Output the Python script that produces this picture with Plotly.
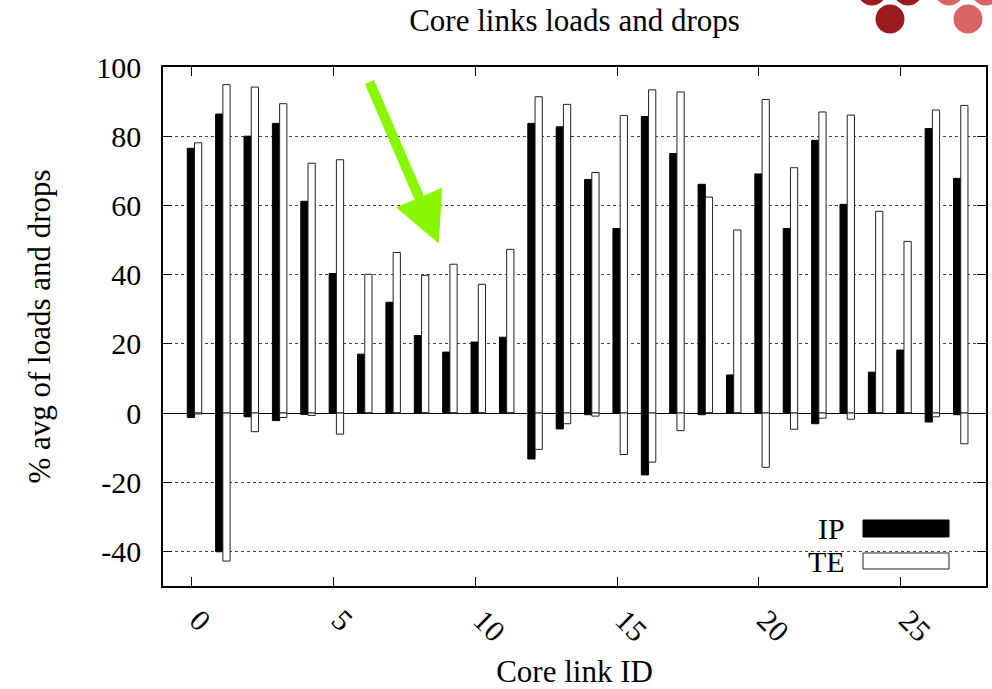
import plotly.graph_objects as go

link_ids = list(range(28))
ip_load = [76.5, 86.4, 80.0, 83.7, 61.2, 40.3, 17.0, 32.0, 22.4, 17.6, 20.5, 21.9,
           83.7, 82.7, 67.5, 53.3, 85.7, 75.0, 66.1, 11.0, 69.1, 53.3, 78.8, 60.3,
           11.8, 18.2, 82.2, 67.8]
te_load = [78.1, 94.9, 94.2, 89.4, 72.2, 73.2, 40.1, 46.4, 39.8, 43.0, 37.2, 47.3,
           91.4, 89.2, 69.5, 86.0, 93.4, 92.8, 62.4, 52.9, 90.6, 70.9, 87.0, 86.1,
           58.3, 49.6, 87.6, 88.9]
ip_drop = [-1.3, -40.1, -1.1, -2.2, -0.4, 0, 0, 0, 0, 0, 0, 0,
           -13.3, -4.6, -0.5, 0, -17.9, 0, -0.5, 0, 0, 0, -3.1, 0,
           0, 0, -2.6, -0.5]
te_drop = [-0.3, -42.8, -5.4, -1.3, -0.7, -6.1, 0, 0, 0, 0, 0, 0,
           -10.5, -3.1, -0.9, -12.0, -14.2, -5.1, 0, 0, -15.7, -4.7, -1.5, -1.8,
           0, 0, -1.1, -8.9]

y_ticks = [-40, -20, 0, 20, 40, 60, 80, 100]
x_ticks = [0, 5, 10, 15, 20, 25]

FONT = "Liberation Serif"
FS = 30
BW = 0.255
IP_OFF = -0.145
TE_OFF = IP_OFF + BW

fig = go.Figure()
ip_style = dict(marker=dict(color="black", line=dict(color="black", width=1)),
                width=BW, offset=IP_OFF)
te_style = dict(marker=dict(color="white", line=dict(color="#222222", width=1)),
                width=BW, offset=TE_OFF)
fig.add_trace(go.Bar(x=link_ids, y=ip_load, name="IP", showlegend=False, **ip_style))
fig.add_trace(go.Bar(x=link_ids, y=te_load, name="TE", showlegend=False, **te_style))
fig.add_trace(go.Bar(x=link_ids, y=ip_drop, name="IP drops", showlegend=False, **ip_style))
fig.add_trace(go.Bar(x=link_ids, y=te_drop, name="TE drops", showlegend=False, **te_style))

L, R, T, B = 163, 986, 67, 586
W, H = 992, 689
pw, ph = R - L, B - T


def px(xp):
    return (xp - L) / pw


def py(yp):
    return (B - yp) / ph


shapes = []
# decorative logo circles (top right)
for cx, cy, col in [(872, -9, "#9b1c1f"), (908, -9, "#9b1c1f"), (890, 19, "#9b1c1f"),
                    (949, -9, "#d86464"), (986, -9, "#d86464"), (968, 19, "#d86464")]:
    r = 14.5
    shapes.append(dict(type="circle", xref="paper", yref="paper",
                       x0=px(cx - r), x1=px(cx + r), y0=py(cy + r), y1=py(cy - r),
                       fillcolor=col, line=dict(width=0), layer="above"))
# legend boxes
shapes.append(dict(type="rect", xref="paper", yref="paper",
                   x0=px(863), x1=px(949), y0=py(537), y1=py(520),
                   fillcolor="black", line=dict(color="black", width=1)))
shapes.append(dict(type="rect", xref="paper", yref="paper",
                   x0=px(863), x1=px(949), y0=py(569), y1=py(553),
                   fillcolor="white", line=dict(color="#222222", width=1)))

annotations = [
    dict(xref="paper", yref="paper", x=px(847), y=py(528), text="IP", showarrow=False,
         xanchor="right", yanchor="middle", font=dict(family=FONT, size=FS, color="black")),
    dict(xref="paper", yref="paper", x=px(847), y=py(561), text="TE", showarrow=False,
         xanchor="right", yanchor="middle", font=dict(family=FONT, size=FS, color="black")),
    dict(x=8.72, y=49.0, xref="x", yref="y", text="", showarrow=True,
         ax=-70, ay=-163, arrowcolor="#88f700", arrowwidth=10, arrowhead=2,
         arrowsize=1.0, standoff=0),
]

fig.update_layout(
    width=W, height=H,
    margin=dict(l=L, r=W - R, t=T, b=H - B, autoexpand=False),
    paper_bgcolor="white", plot_bgcolor="white",
    barmode="overlay",
    font=dict(family=FONT, size=FS, color="black"),
    title=dict(text="Core links loads and drops", x=0.5, xref="paper",
               y=1 - 20 / H, yanchor="middle", xanchor="center",
               font=dict(family=FONT, size=31, color="black")),
    shapes=shapes,
    annotations=annotations,
)
fig.update_xaxes(range=[-1, 28], tickvals=x_ticks, ticktext=[str(v) for v in x_ticks],
                 tickangle=45, ticks="inside", ticklen=9, tickcolor="black",
                 showline=True, linecolor="black", linewidth=1.5, mirror="ticks",
                 showgrid=False, zeroline=False, automargin=False,
                 ticklabelshift=7, ticklabelstandoff=3,
                 title=dict(text="Core link ID", standoff=14,
                            font=dict(family=FONT, size=31)),
                 tickfont=dict(family=FONT, size=FS))
fig.update_yaxes(range=[-50, 100], tickvals=y_ticks, ticktext=[str(v) for v in y_ticks],
                 ticks="inside", ticklen=9, tickcolor="black",
                 showline=True, linecolor="black", linewidth=1.5, mirror="ticks",
                 showgrid=True, gridcolor="#444444", griddash="dot", gridwidth=1,
                 zeroline=True, zerolinecolor="black", zerolinewidth=1.2,
                 ticklabelstandoff=14, automargin=False,
                 title=dict(text="% avg of loads and drops", standoff=36,
                            font=dict(family=FONT, size=31)),
                 tickfont=dict(family=FONT, size=FS))

fig.write_html("out.html", config={"displayModeBar": False},
               post_script="document.body.style.margin='0';document.body.style.padding='0';")
